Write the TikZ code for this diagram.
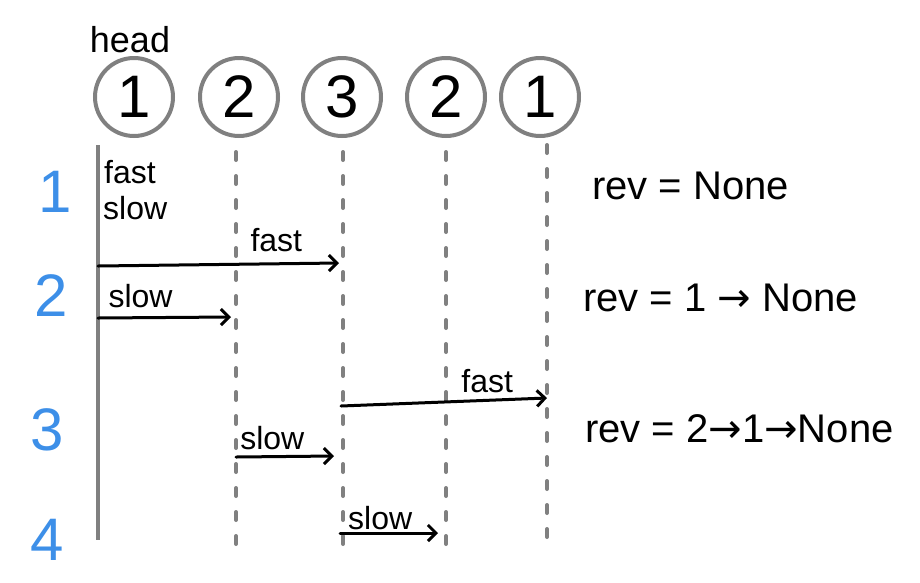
\documentclass[tikz,border=0pt]{standalone}
\usepackage{fontspec}
\setmainfont{Liberation Sans}
\newfontfamily\arrowfont{DejaVu Sans}
\usetikzlibrary{arrows.meta}
\definecolor{penGray}{HTML}{808080}
\definecolor{penBlue}{HTML}{3D8FE8}
\newcommand{\rarr}{{\arrowfont →}}
\begin{document}
\begin{tikzpicture}[x=1pt,y=-1pt,
  numnode/.style={circle,draw=penGray,line width=4pt,minimum size=78pt,inner sep=0pt,font=\fontsize{60}{60}\selectfont},
  lanesolid/.style={penGray,line width=4pt},
  lane/.style={penGray,line width=4pt,line cap=round,dash pattern=on 8pt off 16pt},
  ptr/.style={line width=3pt,line cap=round,-{Straight Barb[length=8pt,width=16pt,line width=3pt]}},
  lbl/.style={font=\fontsize{32}{32}\selectfont,inner sep=0pt},
  stepnum/.style={text=penBlue,font=\fontsize{60}{60}\selectfont,inner sep=0pt},
  revtxt/.style={font=\fontsize{40}{40}\selectfont,anchor=base west,inner sep=0pt}]
\useasboundingbox (0,0) rectangle (920,582);

% list nodes
\node[numnode] (c1) at (134,97) {1};
\node[numnode] (c2) at (239,97) {2};
\node[numnode] (c3) at (342,97) {3};
\node[numnode] (c4) at (446,97) {2};
\node[numnode] (c5) at (540,97) {1};
\node[font=\fontsize{36}{36}\selectfont,inner sep=0pt,anchor=base] (head) at (130,52) {head};

% lanes
\coordinate (t1) at (98,145);  \coordinate (b1) at (98,540);
\coordinate (t2) at (236,152); \coordinate (b2) at (236,548);
\coordinate (t3) at (343,152); \coordinate (b3) at (343,548);
\coordinate (t4) at (446,152); \coordinate (b4) at (446,548);
\coordinate (t5) at (547,145); \coordinate (b5) at (547,548);
\draw[lanesolid] (t1) -- (b1);
\draw[lane] (t2) -- (b2);
\draw[lane] (t3) -- (b3);
\draw[lane] (t4) -- (b4);
\draw[lane] (t5) -- (b5);

% step labels
\node[stepnum] (s1) at (55,192) {1};
\node[stepnum] (s2) at (51,296) {2};
\node[stepnum] (s3) at (47,430) {3};
\node[stepnum] (s4) at (47,540) {4};

% initial pointers
\node[lbl,anchor=base west] (f0) at (104,183) {fast};
\node[lbl,anchor=base west] (w0) at (103,219) {slow};

% step 2
\coordinate (a1s) at (98,266);  \coordinate (a1e) at (339,263);
\coordinate (a2s) at (98,318);  \coordinate (a2e) at (231,317);
\draw[ptr] (a1s) -- node[lbl,pos=0.74,anchor=south,yshift=10pt] (lf1) {fast} (a1e);
\draw[ptr] (a2s) -- node[lbl,pos=0.32,anchor=south,yshift=8pt] (ls1) {slow} (a2e);

% step 3
\coordinate (a3s) at (341,406); \coordinate (a3e) at (547,398);
\coordinate (a4s) at (236,457); \coordinate (a4e) at (334,456);
\draw[ptr] (a3s) -- node[lbl,pos=0.71,anchor=south,yshift=6pt] (lf2) {fast} (a3e);
\draw[ptr] (a4s) -- node[lbl,pos=0.37,anchor=south,yshift=5pt] (ls2) {slow} (a4e);

% step 4
\coordinate (a5s) at (340,533); \coordinate (a5e) at (438,533);
\draw[ptr] (a5s) -- node[lbl,pos=0.41,anchor=south,yshift=2pt] (ls3) {slow} (a5e);

% rev states
\node[revtxt] (r1) at (592,199) {rev = None};
\node[revtxt] (r2) at (583,311) {rev = 1 \rarr{} None};
\node[revtxt] (r3) at (585,442) {rev = 2\rarr1\rarr None};
\end{tikzpicture}
\end{document}
